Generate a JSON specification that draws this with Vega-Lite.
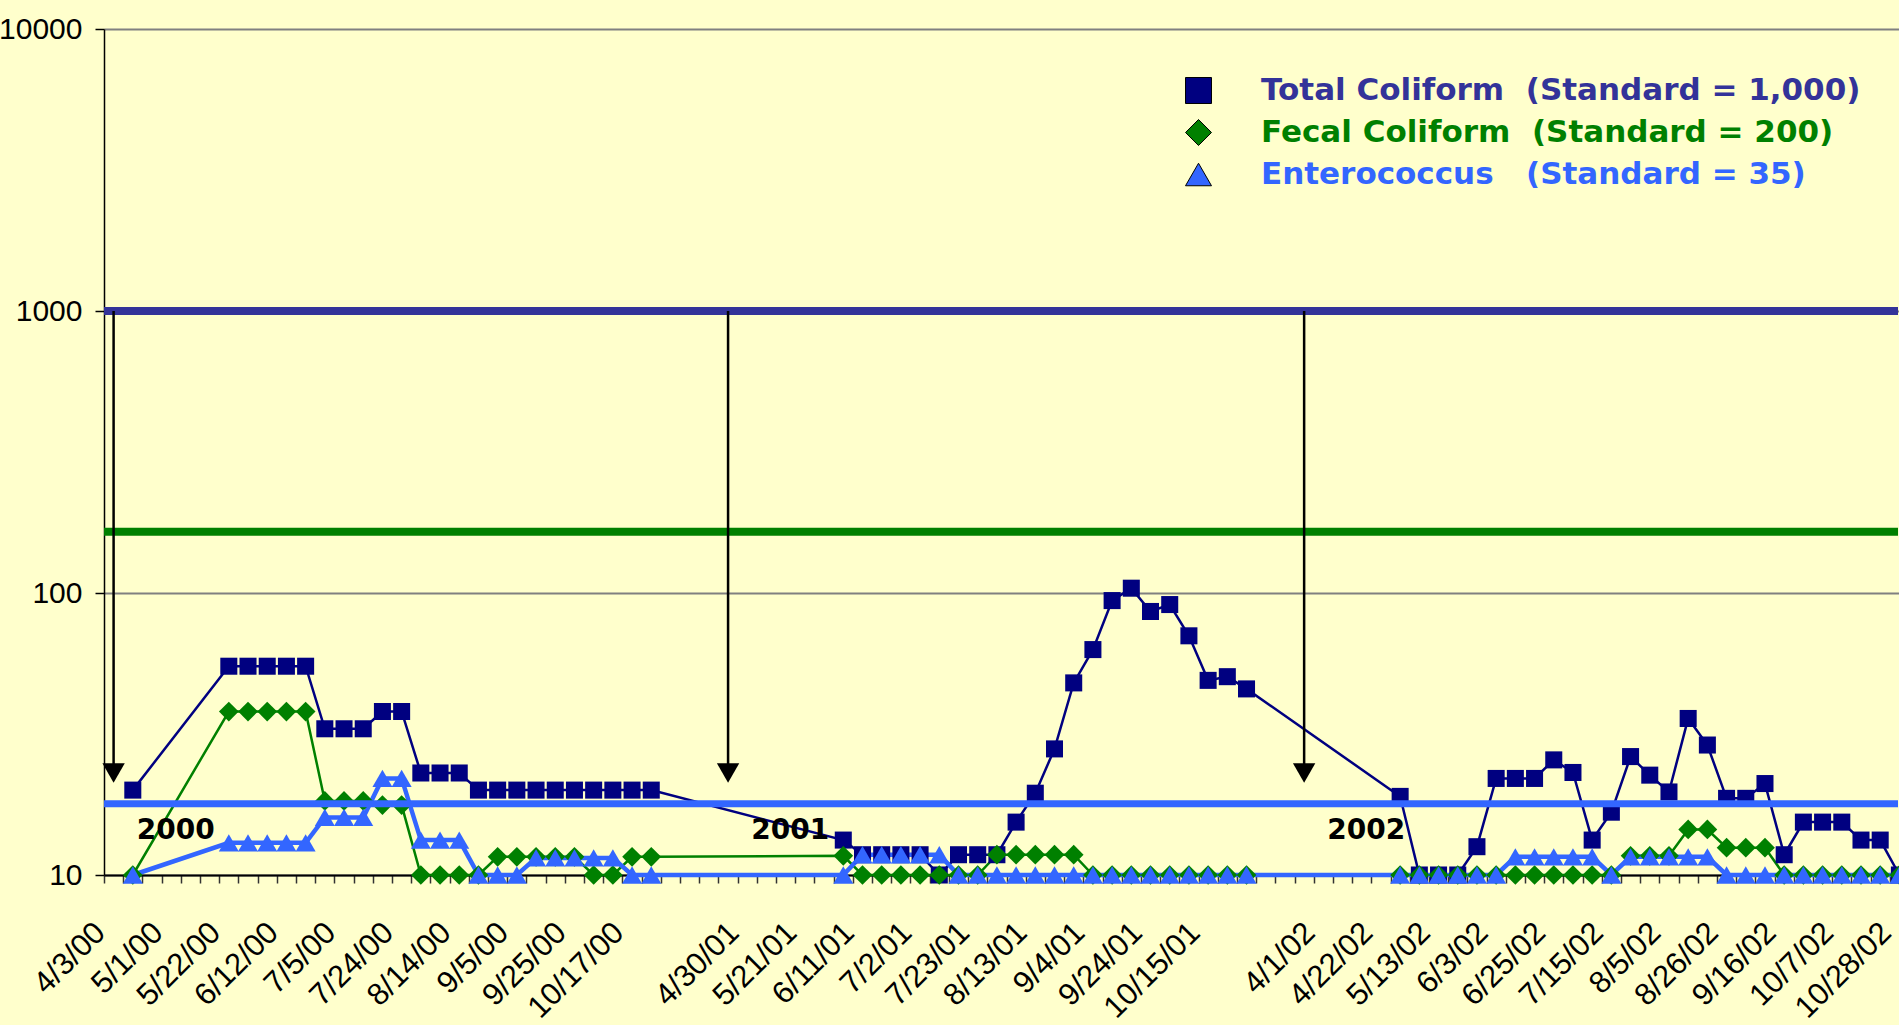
{
  "$schema": "https://vega.github.io/schema/vega-lite/v6.json",
  "width": 1805,
  "height": 846,
  "autosize": {"type": "none"},
  "padding": {"left": 104, "top": 29, "right": -10, "bottom": 150},
  "background": "#FFFFCC",
  "config": {"view": {"stroke": null}},
  "datasets": {
    "samples": [
      {"cat": "c1", "Total Coliform": 20, "Fecal Coliform": 10, "Enterococcus": 10},
      {"cat": "5/22/00", "Total Coliform": 55, "Fecal Coliform": 38, "Enterococcus": 13},
      {"cat": "c7", "Total Coliform": 55, "Fecal Coliform": 38, "Enterococcus": 13},
      {"cat": "c8", "Total Coliform": 55, "Fecal Coliform": 38, "Enterococcus": 13},
      {"cat": "6/12/00", "Total Coliform": 55, "Fecal Coliform": 38, "Enterococcus": 13},
      {"cat": "c10", "Total Coliform": 55, "Fecal Coliform": 38, "Enterococcus": 13},
      {"cat": "c11", "Total Coliform": 33, "Fecal Coliform": 18.3, "Enterococcus": 16},
      {"cat": "7/5/00", "Total Coliform": 33, "Fecal Coliform": 18.3, "Enterococcus": 16},
      {"cat": "c13", "Total Coliform": 33, "Fecal Coliform": 18.3, "Enterococcus": 16},
      {"cat": "c14", "Total Coliform": 38, "Fecal Coliform": 17.7, "Enterococcus": 22},
      {"cat": "7/24/00", "Total Coliform": 38, "Fecal Coliform": 17.7, "Enterococcus": 22},
      {"cat": "c16", "Total Coliform": 23, "Fecal Coliform": 10, "Enterococcus": 13.3},
      {"cat": "c17", "Total Coliform": 23, "Fecal Coliform": 10, "Enterococcus": 13.3},
      {"cat": "8/14/00", "Total Coliform": 23, "Fecal Coliform": 10, "Enterococcus": 13.3},
      {"cat": "c19", "Total Coliform": 20, "Fecal Coliform": 10, "Enterococcus": 10},
      {"cat": "c20", "Total Coliform": 20, "Fecal Coliform": 11.6, "Enterococcus": 10},
      {"cat": "9/5/00", "Total Coliform": 20, "Fecal Coliform": 11.6, "Enterococcus": 10},
      {"cat": "c22", "Total Coliform": 20, "Fecal Coliform": 11.6, "Enterococcus": 11.5},
      {"cat": "c23", "Total Coliform": 20, "Fecal Coliform": 11.6, "Enterococcus": 11.5},
      {"cat": "9/25/00", "Total Coliform": 20, "Fecal Coliform": 11.6, "Enterococcus": 11.5},
      {"cat": "c25", "Total Coliform": 20, "Fecal Coliform": 10, "Enterococcus": 11.5},
      {"cat": "c26", "Total Coliform": 20, "Fecal Coliform": 10, "Enterococcus": 11.5},
      {"cat": "10/17/00", "Total Coliform": 20, "Fecal Coliform": 11.6, "Enterococcus": 10},
      {"cat": "c28", "Total Coliform": 20, "Fecal Coliform": 11.6, "Enterococcus": 10},
      {"cat": "c38", "Total Coliform": 13.3, "Fecal Coliform": 11.7, "Enterococcus": 10},
      {"cat": "6/11/01", "Total Coliform": 11.8, "Fecal Coliform": 10, "Enterococcus": 11.8},
      {"cat": "c40", "Total Coliform": 11.8, "Fecal Coliform": 10, "Enterococcus": 11.8},
      {"cat": "c41", "Total Coliform": 11.8, "Fecal Coliform": 10, "Enterococcus": 11.8},
      {"cat": "7/2/01", "Total Coliform": 11.8, "Fecal Coliform": 10, "Enterococcus": 11.8},
      {"cat": "c43", "Total Coliform": 10, "Fecal Coliform": 10, "Enterococcus": 11.8},
      {"cat": "c44", "Total Coliform": 11.8, "Fecal Coliform": 10, "Enterococcus": 10},
      {"cat": "7/23/01", "Total Coliform": 11.8, "Fecal Coliform": 10, "Enterococcus": 10},
      {"cat": "c46", "Total Coliform": 11.8, "Fecal Coliform": 11.8, "Enterococcus": 10},
      {"cat": "c47", "Total Coliform": 15.4, "Fecal Coliform": 11.8, "Enterococcus": 10},
      {"cat": "8/13/01", "Total Coliform": 19.5, "Fecal Coliform": 11.8, "Enterococcus": 10},
      {"cat": "c49", "Total Coliform": 28, "Fecal Coliform": 11.8, "Enterococcus": 10},
      {"cat": "c50", "Total Coliform": 48, "Fecal Coliform": 11.8, "Enterococcus": 10},
      {"cat": "9/4/01", "Total Coliform": 63, "Fecal Coliform": 10, "Enterococcus": 10},
      {"cat": "c52", "Total Coliform": 94, "Fecal Coliform": 10, "Enterococcus": 10},
      {"cat": "c53", "Total Coliform": 104, "Fecal Coliform": 10, "Enterococcus": 10},
      {"cat": "9/24/01", "Total Coliform": 86, "Fecal Coliform": 10, "Enterococcus": 10},
      {"cat": "c55", "Total Coliform": 91, "Fecal Coliform": 10, "Enterococcus": 10},
      {"cat": "c56", "Total Coliform": 70.5, "Fecal Coliform": 10, "Enterococcus": 10},
      {"cat": "10/15/01", "Total Coliform": 49, "Fecal Coliform": 10, "Enterococcus": 10},
      {"cat": "c58", "Total Coliform": 50.5, "Fecal Coliform": 10, "Enterococcus": 10},
      {"cat": "c59", "Total Coliform": 45.7, "Fecal Coliform": 10, "Enterococcus": 10},
      {"cat": "c67", "Total Coliform": 19, "Fecal Coliform": 10, "Enterococcus": 10},
      {"cat": "c68", "Total Coliform": 10, "Fecal Coliform": 10, "Enterococcus": 10},
      {"cat": "5/13/02", "Total Coliform": 10, "Fecal Coliform": 10, "Enterococcus": 10},
      {"cat": "c70", "Total Coliform": 10, "Fecal Coliform": 10, "Enterococcus": 10},
      {"cat": "c71", "Total Coliform": 12.6, "Fecal Coliform": 10, "Enterococcus": 10},
      {"cat": "6/3/02", "Total Coliform": 22, "Fecal Coliform": 10, "Enterococcus": 10},
      {"cat": "c73", "Total Coliform": 22, "Fecal Coliform": 10, "Enterococcus": 11.6},
      {"cat": "c74", "Total Coliform": 22, "Fecal Coliform": 10, "Enterococcus": 11.6},
      {"cat": "6/25/02", "Total Coliform": 25.6, "Fecal Coliform": 10, "Enterococcus": 11.6},
      {"cat": "c76", "Total Coliform": 23.1, "Fecal Coliform": 10, "Enterococcus": 11.6},
      {"cat": "c77", "Total Coliform": 13.3, "Fecal Coliform": 10, "Enterococcus": 11.6},
      {"cat": "7/15/02", "Total Coliform": 16.7, "Fecal Coliform": 10, "Enterococcus": 10},
      {"cat": "c79", "Total Coliform": 26.3, "Fecal Coliform": 11.7, "Enterococcus": 11.6},
      {"cat": "c80", "Total Coliform": 22.6, "Fecal Coliform": 11.7, "Enterococcus": 11.6},
      {"cat": "8/5/02", "Total Coliform": 19.7, "Fecal Coliform": 11.7, "Enterococcus": 11.6},
      {"cat": "c82", "Total Coliform": 35.9, "Fecal Coliform": 14.5, "Enterococcus": 11.6},
      {"cat": "c83", "Total Coliform": 28.9, "Fecal Coliform": 14.5, "Enterococcus": 11.6},
      {"cat": "8/26/02", "Total Coliform": 18.7, "Fecal Coliform": 12.5, "Enterococcus": 10},
      {"cat": "c85", "Total Coliform": 18.7, "Fecal Coliform": 12.5, "Enterococcus": 10},
      {"cat": "c86", "Total Coliform": 21.1, "Fecal Coliform": 12.5, "Enterococcus": 10},
      {"cat": "9/16/02", "Total Coliform": 11.8, "Fecal Coliform": 10, "Enterococcus": 10},
      {"cat": "c88", "Total Coliform": 15.4, "Fecal Coliform": 10, "Enterococcus": 10},
      {"cat": "c89", "Total Coliform": 15.4, "Fecal Coliform": 10, "Enterococcus": 10},
      {"cat": "10/7/02", "Total Coliform": 15.4, "Fecal Coliform": 10, "Enterococcus": 10},
      {"cat": "c91", "Total Coliform": 13.3, "Fecal Coliform": 10, "Enterococcus": 10},
      {"cat": "c92", "Total Coliform": 13.3, "Fecal Coliform": 10, "Enterococcus": 10},
      {"cat": "10/28/02", "Total Coliform": 10, "Fecal Coliform": 10, "Enterococcus": 10}
    ],
    "arrows": [
      {"cat": "4/3/00", "top": 1000, "bottom": 23},
      {"cat": "c32", "top": 1000, "bottom": 23},
      {"cat": "c62", "top": 1000, "bottom": 23}
    ],
    "years": [
      {"cat": "c1", "y": 14.3, "label": "2000"},
      {"cat": "4/30/01", "y": 14.3, "label": "2001"},
      {"cat": "4/1/02", "y": 14.3, "label": "2002"}
    ]
  },
  "layer": [
    {
      "data": {"name": "samples"},
      "mark": {"type": "line", "color": "#000080", "strokeWidth": 2.5},
      "encoding": {
        "x": {
          "field": "cat", "type": "ordinal", "title": null,
          "scale": {
            "type": "band", "paddingInner": 0, "paddingOuter": 0,
            "domain": ["4/3/00","c1","c2","5/1/00","c4","c5","5/22/00","c7","c8","6/12/00","c10","c11","7/5/00","c13","c14","7/24/00","c16","c17","8/14/00","c19","c20","9/5/00","c22","c23","9/25/00","c25","c26","10/17/00","c28","c29","c30","c31","c32","4/30/01","c34","c35","5/21/01","c37","c38","6/11/01","c40","c41","7/2/01","c43","c44","7/23/01","c46","c47","8/13/01","c49","c50","9/4/01","c52","c53","9/24/01","c55","c56","10/15/01","c58","c59","c60","c61","c62","4/1/02","c64","c65","4/22/02","c67","c68","5/13/02","c70","c71","6/3/02","c73","c74","6/25/02","c76","c77","7/15/02","c79","c80","8/5/02","c82","c83","8/26/02","c85","c86","9/16/02","c88","c89","10/7/02","c91","c92","10/28/02"]
          },
          "axis": {
            "title": null,
            "labelAngle": -45, "labelAlign": "right", "labelBaseline": "top",
            "labelFont": "Liberation Sans", "labelFontSize": 31, "labelColor": "#000000",
            "labelPadding": 34, "labelOffset": -24,
            "labelExpr": "indexof(datum.label, '/') >= 0 ? datum.label : ''",
            "labelOverlap": false, "labelBound": false, "labelFlush": false,
            "tickBand": "extent", "tickSize": 8, "tickColor": "#333333", "tickWidth": 1.5,
            "domainColor": "#000000", "domainWidth": 2, "grid": false
          }
        },
        "y": {
          "field": "Total Coliform", "type": "quantitative", "title": null,
          "scale": {"type": "log", "domain": [10, 10000], "nice": false},
          "axis": {
            "title": null, "values": [10, 100, 1000, 10000], "format": "d",
            "labelFont": "Liberation Sans", "labelFontSize": 30, "labelColor": "#000000",
            "labelPadding": 13, "tickSize": 9, "tickColor": "#000000", "tickWidth": 1.5,
            "domainColor": "#000000", "domainWidth": 1.5,
            "grid": true, "gridColor": "#808080", "gridWidth": 2
          }
        },
        "order": {"value": null}
      }
    },
    {
      "data": {"name": "samples"},
      "mark": {"type": "line", "color": "#008000", "strokeWidth": 2.5},
      "encoding": {
        "x": {"field": "cat", "type": "ordinal", "title": null},
        "y": {"field": "Fecal Coliform", "type": "quantitative", "title": null},
        "order": {"value": null}
      }
    },
    {
      "data": {"name": "samples"},
      "mark": {"type": "line", "color": "#3366FF", "strokeWidth": 4.5},
      "encoding": {
        "x": {"field": "cat", "type": "ordinal", "title": null},
        "y": {"field": "Enterococcus", "type": "quantitative", "title": null},
        "order": {"value": null}
      }
    },
    {
      "data": {"name": "samples"},
      "transform": [
        {"fold": ["Total Coliform", "Fecal Coliform", "Enterococcus"], "as": ["series", "value"]},
        {"filter": "datum.series == 'Total Coliform'"}
      ],
      "mark": {"type": "point", "filled": true, "opacity": 1, "size": 290},
      "encoding": {
        "x": {"field": "cat", "type": "ordinal", "title": null},
        "y": {"field": "value", "type": "quantitative", "title": null},
        "color": {
          "field": "series", "type": "nominal",
          "scale": {"domain": ["Total Coliform", "Fecal Coliform", "Enterococcus"], "range": ["#000080", "#008000", "#3366FF"]},
          "legend": {
            "orient": "none", "legendX": 1079, "legendY": 46, "title": null, "padding": 0,
            "symbolSize": 676, "symbolStrokeColor": "#000000", "symbolStrokeWidth": 1,
            "labelFont": "DejaVu Sans", "labelFontWeight": "bold", "labelFontSize": 31,
            "labelLimit": 1200, "labelOffset": 47, "rowPadding": 10,
            "labelExpr": "datum.label == 'Total Coliform' ? 'Total Coliform\u00a0\u00a0(Standard = 1,000)' : datum.label == 'Fecal Coliform' ? 'Fecal Coliform\u00a0\u00a0(Standard = 200)' : 'Enterococcus\u00a0\u00a0\u00a0(Standard = 35)'",
            "labelColor": {"expr": "datum.value == 'Total Coliform' ? '#333399' : datum.value == 'Fecal Coliform' ? '#008000' : '#3366FF'"}
          }
        },
        "shape": {
          "field": "series", "type": "nominal",
          "scale": {"domain": ["Total Coliform", "Fecal Coliform", "Enterococcus"], "range": ["square", "diamond", "triangle-up"]}
        }
      }
    },
    {
      "data": {"name": "samples"},
      "transform": [
        {"fold": ["Total Coliform", "Fecal Coliform", "Enterococcus"], "as": ["series", "value"]},
        {"filter": "datum.series == 'Fecal Coliform'"}
      ],
      "mark": {"type": "point", "filled": true, "opacity": 1, "size": 390},
      "encoding": {
        "x": {"field": "cat", "type": "ordinal", "title": null},
        "y": {"field": "value", "type": "quantitative", "title": null},
        "color": {"field": "series", "type": "nominal"},
        "shape": {"field": "series", "type": "nominal"}
      }
    },
    {
      "data": {"name": "samples"},
      "transform": [
        {"fold": ["Total Coliform", "Fecal Coliform", "Enterococcus"], "as": ["series", "value"]},
        {"filter": "datum.series == 'Enterococcus'"}
      ],
      "mark": {"type": "point", "filled": true, "opacity": 1, "size": 400},
      "encoding": {
        "x": {"field": "cat", "type": "ordinal", "title": null},
        "y": {"field": "value", "type": "quantitative", "title": null},
        "color": {"field": "series", "type": "nominal"},
        "shape": {"field": "series", "type": "nominal"}
      }
    },
    {"data": {"values": [{}]}, "mark": {"type": "rule", "color": "#333399", "strokeWidth": 8, "xOffset": -11, "x2Offset": -23}, "encoding": {"y": {"datum": 1000, "type": "quantitative"}}},
    {"data": {"values": [{}]}, "mark": {"type": "rule", "color": "#008000", "strokeWidth": 8, "xOffset": -11}, "encoding": {"y": {"datum": 165, "type": "quantitative"}}},
    {"data": {"values": [{}]}, "mark": {"type": "rule", "color": "#3366FF", "strokeWidth": 7, "xOffset": -11}, "encoding": {"y": {"datum": 17.9, "type": "quantitative"}}},
    {
      "data": {"name": "arrows"},
      "mark": {"type": "rule", "color": "#000000", "strokeWidth": 2.5},
      "encoding": {
        "x": {"field": "cat", "type": "ordinal", "title": null},
        "y": {"field": "top", "type": "quantitative", "title": null},
        "y2": {"field": "bottom"}
      }
    },
    {
      "data": {"name": "arrows"},
      "mark": {"type": "point", "shape": "triangle-down", "filled": true, "color": "#000000", "size": 500, "opacity": 1},
      "encoding": {
        "x": {"field": "cat", "type": "ordinal", "title": null},
        "y": {"field": "bottom", "type": "quantitative", "title": null}
      }
    },
    {
      "data": {"name": "years"},
      "mark": {"type": "text", "font": "DejaVu Sans", "fontWeight": "bold", "fontSize": 28, "align": "left", "baseline": "middle", "dx": 4, "color": "#000000"},
      "encoding": {
        "x": {"field": "cat", "type": "ordinal", "title": null},
        "y": {"field": "y", "type": "quantitative", "title": null},
        "text": {"field": "label"}
      }
    }
  ]
}
